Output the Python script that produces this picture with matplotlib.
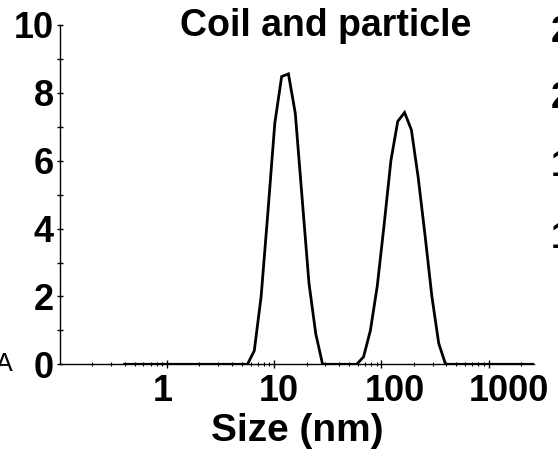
import matplotlib
matplotlib.use('Agg')
import matplotlib.pyplot as plt
from matplotlib.ticker import LogLocator, MultipleLocator, FixedLocator, NullFormatter
from matplotlib.transforms import ScaledTranslation
import numpy as np


# size bins (nm) of the DLS instrument
sizes = [0.4, 0.4632, 0.5365, 0.6213, 0.7195, 0.8332, 0.955, 1.117, 1.294,
         1.499, 1.736, 2.01, 2.328, 2.696, 3.122, 3.615, 4.187, 4.849,
         5.615, 6.503, 7.531, 8.721, 10.1, 11.7, 13.54, 15.69, 18.17,
         21.04, 24.36, 28.21, 32.67, 37.84, 43.82, 50.75, 58.77, 68.06,
         78.82, 91.28, 105.7, 122.4, 141.8, 164.2, 190.1, 220.2, 255.0,
         295.3, 342.0, 396.1, 458.7, 531.2, 615.1, 712.4, 825.0, 955.4,
         1106, 1281, 1484, 1718, 1990, 2305, 2669, 3091]
# intensity (%)
intensity = [0, 0, 0, 0, 0, 0, 0, 0, 0,
             0, 0, 0, 0, 0, 0, 0, 0, 0,
             0, 0.4, 2.0, 4.5, 7.1, 8.48, 8.56, 7.40, 4.9,
             2.4, 0.9, 0, 0, 0, 0, 0, 0, 0.22,
             1.0, 2.3, 4.1, 6.0, 7.16, 7.42, 6.91, 5.5, 3.8,
             2.0, 0.62, 0, 0, 0, 0, 0, 0, 0,
             0, 0, 0, 0, 0, 0, 0, 0]

title = 'Coil and particle'
x_label = 'Size (nm)'
y_ticks = [0, 2, 4, 6, 8, 10]
x_ticks = [1, 10, 100, 1000]
x_tick_labels = ['1', '10', '100', '1000']
# cut-off tick labels of the neighbouring panels
right_labels = ['25', '20', '15', '10']


def plot():
    plt.rcParams['font.family'] = ['Liberation Sans', 'DejaVu Sans']
    plt.rcParams['font.weight'] = 'bold'

    fig = plt.figure(figsize=(5.58, 4.59), dpi=100)
    ax = fig.add_axes([60 / 558, 1 - 364.3 / 459, 474 / 558, 339.3 / 459])

    ax.plot(sizes, intensity, color='black', lw=2.0, solid_joinstyle='miter')

    ax.set_xscale('log')
    ax.set_xlim(0.1, 2650)
    ax.set_ylim(0, 10)

    ax.spines['top'].set_visible(False)
    ax.spines['right'].set_visible(False)
    ax.spines['left'].set_linewidth(1.0)
    ax.spines['bottom'].set_linewidth(1.0)

    ax.xaxis.set_major_locator(FixedLocator(x_ticks))
    ax.set_xticklabels(x_tick_labels)
    ax.xaxis.set_minor_locator(LogLocator(base=10, subs=np.arange(2, 10), numticks=20))
    ax.xaxis.set_minor_formatter(NullFormatter())
    ax.yaxis.set_major_locator(FixedLocator(y_ticks))
    ax.yaxis.set_minor_locator(MultipleLocator(1))

    ax.tick_params(axis='x', which='major', direction='inout', length=5.5, width=1.0,
                   labelsize=26, pad=4)
    ax.tick_params(axis='x', which='minor', direction='inout', length=3, width=0.8)
    ax.tick_params(axis='y', which='both', direction='inout', length=5, width=1.0,
                   labelsize=26, pad=2)
    for lab in ax.get_xticklabels() + ax.get_yticklabels():
        lab.set_fontweight('bold')

    # the original software does not center the labels on the ticks
    shifts = [-4, 4, 13, 20]
    for lab, dx in zip(ax.get_xticklabels(), shifts):
        lab.set_transform(lab.get_transform() + ScaledTranslation(dx / 100, 0, fig.dpi_scale_trans))

    ax.set_xlabel(x_label, fontsize=28, fontweight='bold', labelpad=3)

    fig.text(326 / 558, 1 - 36 / 459, title, fontsize=27, fontweight='bold',
             ha='center', va='baseline')

    ys = [32, 99, 167, 238]
    for lab, y in zip(right_labels, ys):
        fig.text(551 / 558, 1 - y / 459, lab, fontsize=26, fontweight='bold',
                 ha='left', va='center')
    fig.text(-4 / 558, 1 - 371 / 459, 'A', fontsize=18, fontweight='normal',
             ha='left', va='baseline')

    fig.savefig('out.png', dpi=100)


def main():
    plot()


if __name__ == "__main__":
    main()
